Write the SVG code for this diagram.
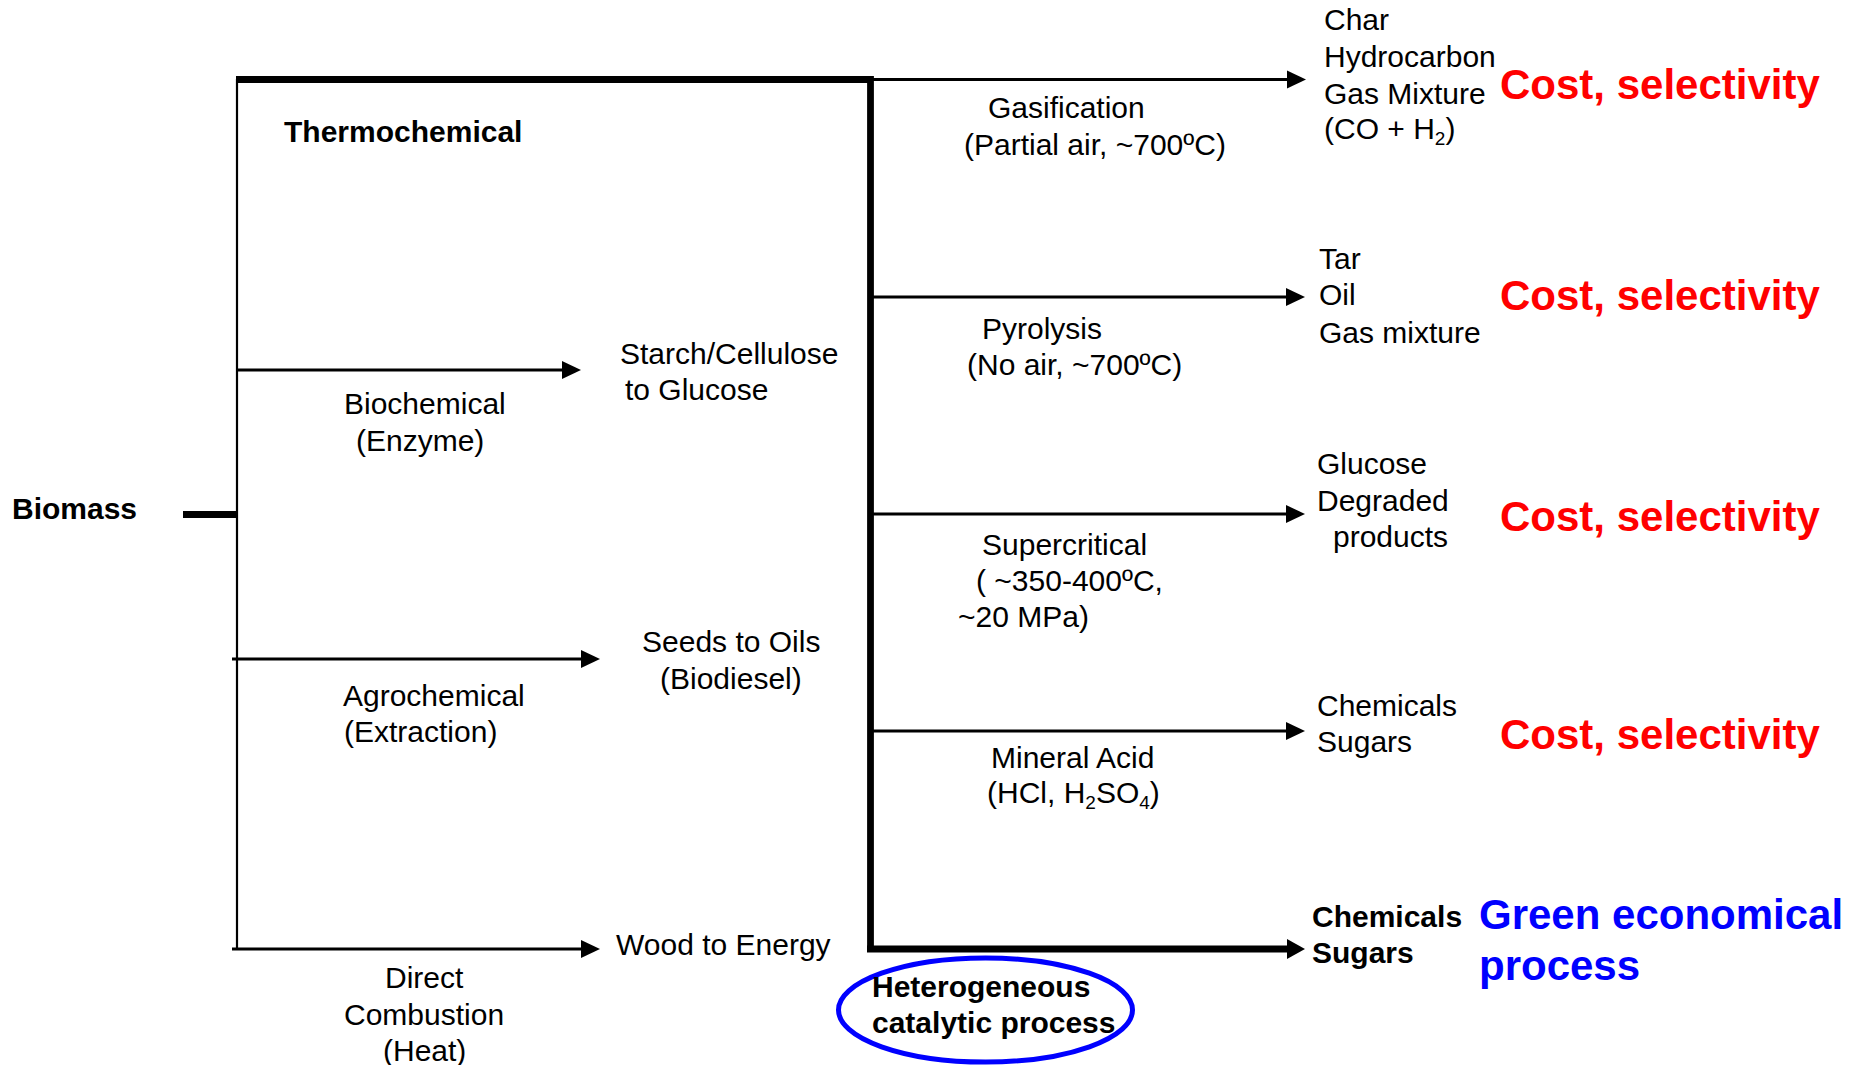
<svg xmlns="http://www.w3.org/2000/svg" width="1857" height="1065" viewBox="0 0 1857 1065">
<style>
text{font-family:"Liberation Sans",Arial,Helvetica,sans-serif;font-size:30px;fill:#000}
.b{font-weight:bold}
.red{font-weight:bold;font-size:42px;fill:#ff0000}
.blue{font-weight:bold;font-size:42px;fill:#0000ff}
.thin{stroke:#000;stroke-width:3.2;fill:none}
.thick{stroke:#000;stroke-width:6.8;fill:none}
.sub{font-size:19px}
</style>
<defs>
<marker id="ah" markerUnits="userSpaceOnUse" markerWidth="20" markerHeight="20" refX="0" refY="9" orient="auto" overflow="visible">
<path d="M0,0 L19,9 L0,18 z" fill="#000"/>
</marker>
<marker id="ahb" markerUnits="userSpaceOnUse" markerWidth="20" markerHeight="22" refX="0" refY="10" orient="auto" overflow="visible">
<path d="M0,0 L18,10 L0,20 z" fill="#000"/>
</marker>
</defs>
<rect width="1857" height="1065" fill="#fff"/>
<g id="connectors">
<line class="thick" x1="183" y1="514.5" x2="238" y2="514.5"/>
<line x1="237" y1="79" x2="237" y2="949" stroke="#000" stroke-width="2.2"/>
<line class="thick" x1="236" y1="79.5" x2="871" y2="79.5"/>
<line class="thick" x1="870.5" y1="76" x2="870.5" y2="952"/>
<line class="thin" x1="237" y1="370" x2="562" y2="370" marker-end="url(#ah)"/>
<line class="thin" x1="232" y1="659" x2="581" y2="659" marker-end="url(#ah)"/>
<line class="thin" x1="232" y1="949" x2="581" y2="949" marker-end="url(#ah)"/>
<line class="thin" x1="871" y1="79.5" x2="1287" y2="79.5" marker-end="url(#ah)"/>
<line class="thin" x1="871" y1="297" x2="1286" y2="297" marker-end="url(#ah)"/>
<line class="thin" x1="871" y1="514" x2="1286" y2="514" marker-end="url(#ah)"/>
<line class="thin" x1="871" y1="731" x2="1286" y2="731" marker-end="url(#ah)"/>
<line class="thick" x1="867" y1="949" x2="1287" y2="949" marker-end="url(#ahb)"/>
</g>
<g id="biomass"><text class="b" x="12" y="519">Biomass</text></g>
<g id="thermochemical"><text class="b" x="284" y="142">Thermochemical</text></g>
<g id="biochemical-label"><text x="344" y="414">Biochemical</text><text x="356" y="451">(Enzyme)</text></g>
<g id="starch"><text x="620" y="364">Starch/Cellulose</text><text x="625" y="400">to Glucose</text></g>
<g id="agrochemical-label"><text x="343" y="706">Agrochemical</text><text x="344" y="742">(Extraction)</text></g>
<g id="seeds"><text x="642" y="652">Seeds to Oils</text><text x="660" y="689">(Biodiesel)</text></g>
<g id="combustion-label"><text x="385" y="988">Direct</text><text x="344" y="1025">Combustion</text><text x="383" y="1061">(Heat)</text></g>
<g id="wood"><text x="616" y="955">Wood to Energy</text></g>
<g id="gasification-label"><text x="988" y="118">Gasification</text><text x="964" y="155">(Partial air, ~700ºC)</text></g>
<g id="pyrolysis-label"><text x="982" y="339">Pyrolysis</text><text x="967" y="375">(No air, ~700ºC)</text></g>
<g id="supercritical-label"><text x="982" y="555">Supercritical</text><text x="976" y="591">( ~350-400ºC,</text><text x="958" y="627">~20 MPa)</text></g>
<g id="mineral-label"><text x="991" y="768">Mineral Acid</text><text x="987" y="803">(HCl, H<tspan class="sub" dy="6">2</tspan><tspan dy="-6">SO</tspan><tspan class="sub" dy="6">4</tspan><tspan dy="-6">)</tspan></text></g>
<g id="heterogeneous">
<ellipse cx="985.5" cy="1010" rx="147" ry="52" fill="none" stroke="#0000ff" stroke-width="5"/>
<text class="b" x="872" y="997">Heterogeneous</text><text class="b" x="872" y="1033">catalytic process</text>
</g>
<g id="gas-products"><text x="1324" y="30">Char</text><text x="1324" y="67">Hydrocarbon</text><text x="1324" y="103.5">Gas Mixture</text><text x="1324" y="139">(CO + H<tspan class="sub" dy="6">2</tspan><tspan dy="-6">)</tspan></text></g>
<g id="pyro-products"><text x="1319" y="269">Tar</text><text x="1319" y="305">Oil</text><text x="1319" y="343">Gas mixture</text></g>
<g id="super-products"><text x="1317" y="474">Glucose</text><text x="1317" y="511">Degraded</text><text x="1333" y="547">products</text></g>
<g id="acid-products"><text x="1317" y="716">Chemicals</text><text x="1317" y="752">Sugars</text></g>
<g id="cat-products"><text class="b" x="1312" y="927">Chemicals</text><text class="b" x="1312" y="963">Sugars</text></g>
<g id="cost1"><text class="red" x="1500" y="99">Cost, selectivity</text></g>
<g id="cost2"><text class="red" x="1500" y="310">Cost, selectivity</text></g>
<g id="cost3"><text class="red" x="1500" y="531">Cost, selectivity</text></g>
<g id="cost4"><text class="red" x="1500" y="749">Cost, selectivity</text></g>
<g id="green"><text class="blue" x="1479" y="929">Green economical</text><text class="blue" x="1479" y="980">process</text></g>
</svg>
